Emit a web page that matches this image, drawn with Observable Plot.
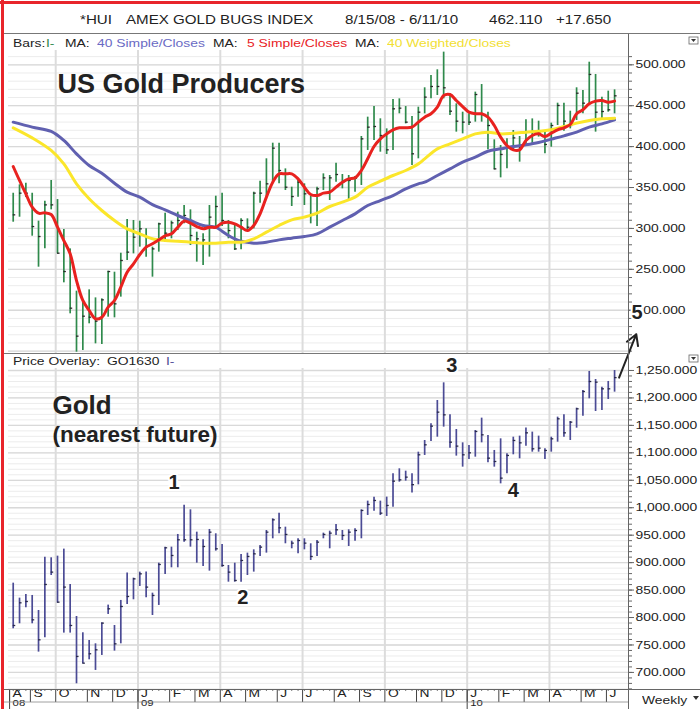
<!DOCTYPE html>
<html><head><meta charset="utf-8">
<script src="https://cdn.jsdelivr.net/npm/d3@7"></script>
<script src="https://cdn.jsdelivr.net/npm/@observablehq/plot@0.6"></script>
<style>
body{margin:0;background:#fff;}
#wrap{position:relative;width:700px;height:709px;overflow:hidden;background:#fff;font-family:"Liberation Sans",Arial,Helvetica,sans-serif;color:#222;}
.abs{position:absolute;white-space:nowrap;}
.st{display:inline-block;transform:scaleX(1.26);transform-origin:0 50%;}
#wrap svg{position:absolute;left:0;overflow:visible;}
</style></head><body><div id="wrap"></div>
<script>
// ---------------- DATA ----------------
const firstWeek = "2008-08-15", lastWeekStop = "2010-06-12";
const huiHigh = [343,353.3,355.3,343,308.9,333.3,358.6,335.3,298.7,275,223.3,209.8,224.9,215.1,213.9,247.7,246.5,269.7,310.9,309.7,308.9,299.5,277.1,306.4,318.6,308.9,319.9,328,322.7,295.4,293.4,328,
 339.4,343,309.7,303.6,311.7,311.7,344.3,357.8,385.1,404.2,404.2,372.8,350.4,359.4,354.5,339,350.4,366.7,364.7,379.8,365.9,364.7,363.5,412.4,436,449,434,421.7,457.6,458.4,449,436.8,
 448.2,471.9,487,493.9,515.5,464.5,452.3,442.1,440.1,466.6,475.9,442.1,408.3,401.4,409.5,419.7,412.4,432.7,433.9,431.1,417.7,428.7,453.1,453.1,443.3,471.9,468.6,503.2,488.2,460.5,467.8,469.4];
const huiLow = [307.6,313.7,337.8,290.5,252.6,275,322.7,268.9,233.5,195.6,148.7,150.8,183.4,158.9,158.1,191.5,190.7,216,260.8,268.9,277.1,264.9,240.4,271,283.2,287.3,297.4,305.6,279.1,258.8,254.7,264.9,
 299.5,302.3,287.3,273,273.8,297.4,299.5,330.9,338.2,356.5,354.5,346.4,326.8,338.2,328,305.6,302.3,346.4,334.1,356.5,348.4,335,344.3,352.5,395.3,407.5,393.2,390.4,395.3,440.1,427.8,376.9,
 385.1,440.1,458.4,462.5,458.4,438,417.7,415.6,425.8,429.9,429.9,396.1,371.6,361.8,372.8,395.3,381,401.4,401.4,411.6,391.2,399.3,425.8,418.9,421.7,431.9,440.1,452.3,417.7,434,442.1,440.1];
const huiClose = [316.6,343.1,343.1,302.3,290.1,328.8,328.8,269.7,247.3,202.5,168.3,192.7,191.5,186.6,212.7,247.3,207.8,260.8,271,289.3,299.5,278.3,275,305.6,294.2,306.8,309.7,315.8,291.3,287.3,286,313.8,
 326.8,309.7,297.4,275,309.7,301.5,343.1,343.1,354.5,398.1,370.8,350.4,339,356.5,342.3,317,348.4,361.8,361.8,365.9,356.5,358.6,361.4,409.5,423.8,424.6,413.6,396.1,446.2,447,429.9,391.2,
 442.1,460.5,473.5,473.5,471.9,443.3,431.1,429.9,429.9,463.7,440.1,425.8,372.8,390.4,399.3,410.7,398.5,417.7,418.9,417.7,402.6,425.8,450.3,431.1,425.8,465.3,453.1,488.2,442.1,442.9,445,462.1];

// moving averages (week index, value)
const ma5Simple = [375.7,358.6,342.3,326,318.6,319,317,301.5,285.2,268.9,236.3,211.9,199.7,189.5,191.5,203.7,211.9,228.2,246.5,256.7,268.1,277.1,281.2,286,291,293.4,301.5,308.9,306.4,302.3,299.5,301.5,
 301.5,306.4,307.6,305.6,301.5,297.4,303.6,317.8,338.2,356.5,366.7,366.7,366.7,360.6,350.4,341.5,340.2,343.1,344.3,350.4,356.5,360.6,361.8,370.8,385.1,400.1,409.5,415.6,420.5,423,423,423.8,
 430,436,440.1,448.2,462.5,463.7,456.4,449,442.1,440.1,440.1,436,425.8,411.6,401.4,396.1,396.1,407.5,413.6,415.6,412.4,416.4,420.5,423,427,440.1,445,452.3,455.6,456.4,454.3,455.6];
const ma40SimpleIdx = [0,3,6,8,10,12,14,16,18,20,22,24,26,28,30,32,33,34,35,36,37,38,40,42,44,46,48,50,52,54,56,58,60,62,64,65,67,69,71,73,75,77,79,81,83,85,87,89,91,93,95];
const ma40Simple = [429.9,423.8,418.5,407.5,391.2,376.9,367.5,355.3,344.3,338.2,329.2,322.7,315.8,309.7,303.6,301.5,296.6,291.3,287.3,284.4,283.2,282,283.2,286,288.1,290.1,293.4,301.5,309.7,317.8,328,334.1,340.2,348.4,354.5,356.5,364.7,372.8,381,387.1,394.4,397.3,400.1,402.2,405,409.1,413.2,417.7,423.8,427.8,432.7];
const ma40WeightedIdx = [0,3,6,8,10,12,14,16,18,20,22,24,26,28,30,32,34,36,38,40,42,44,46,48,50,52,54,56,58,60,62,64,65,67,69,71,73,75,77,79,81,83,85,87,89,91,93,95];
const ma40Weighted = [423,410.7,395.3,378.9,354.5,336.2,321.9,309.7,299.5,293.4,287.3,285.2,284.4,283.2,282,282,283.2,283.2,287.3,295.4,303.6,310.5,313.8,318.6,326.8,332.1,338.2,350.4,357.8,364.7,370.8,378.9,385.1,397.3,403.4,409.5,415.6,417.7,415.6,416.4,417.7,418.9,420.5,424.6,428.7,431.9,434,434.8];

const goldHigh = [862.6,835.3,842,840.2,812.8,910,908.8,911.8,924.6,860.2,801.9,772.2,758.2,752.1,790.4,822.6,785.5,831.1,880.9,871.7,882.7,882.7,844.4,899,928.2,928.2,951.3,1004.7,996.2,955.5,941.6,960.4,
 952.5,933.1,894.8,899,914.8,917.3,923.3,931.2,958.5,979.8,990.1,964.6,939.1,943.4,943.4,934.3,940.3,953.7,957.3,969.5,958.5,959.8,961.6,996.2,1012,1019.3,1012,1019.3,1061.8,1070.9,1066.6,1061.8,
 1101.2,1122.5,1152.8,1195.3,1227.5,1169.2,1142.5,1118.2,1113.4,1140.7,1163.2,1131.6,1104.3,1125.5,1098.2,1128.5,1130.4,1145,1137.7,1130.4,1107.3,1128.5,1165,1169.2,1157.1,1181.4,1213.5,1248.2,1233.6,1219.6,1230,1250];
const goldLow = [779.5,788.6,817.7,788.6,737,763,876.6,826.2,771.6,771.6,679.3,715.7,723,703.6,730.9,805.6,738.8,752.1,823.8,832.3,856.6,835.9,803.7,822,878.4,890.6,890.6,937.3,928.2,899,893,884.5,
 920.9,891.8,864.4,864.4,864.4,876.6,882.7,911.2,917.3,943.4,952.5,934.3,925.2,916.1,923.3,903.9,911.2,943.4,925.2,949.4,940.3,929.4,939.1,943.4,985.9,993.8,985.9,984.1,1001,1046.6,1048.4,1026.6,
 1041.7,1095.2,1120.7,1128.5,1146.8,1108.5,1094,1073.9,1087.9,1092.1,1118.2,1081.8,1073.9,1043.5,1061.8,1096.4,1089.1,1112.2,1101.2,1101.2,1087.9,1101.2,1119.4,1128.5,1122.5,1144.9,1166.8,1198.4,1175.3,1177.1,1197.2,1210.5];
const goldClose = [785.5,826.8,829.2,795.8,759.4,860.2,882.7,828,855.4,785.5,729.1,716.9,734,741.2,789.8,815.9,752.1,820.1,838.3,870.5,879.6,855.4,840.2,896.6,927,913,941.6,941.6,941.6,942.2,929.4,955.5,
 925.2,894.8,882.7,867.5,903.9,911.2,916.1,928.2,955.5,978,963.4,951.3,935.5,940.3,935.5,911.2,937.3,951.3,953.7,959.8,949.4,955.5,958.5,995,1005.9,1013.2,990.1,1004.1,1048.4,1050.8,1055.7,1042,
 1096.4,1114.6,1148.6,1174.1,1169.2,1119.4,1112.2,1096.4,1100,1138.9,1132.8,1090.3,1084.2,1053.9,1095.2,1122.5,1118.2,1136.4,1107.3,1108.5,1104.3,1125.5,1162,1136.4,1155.9,1180.2,1211.7,1229.9,1228.7,1216.6,1216.6,1237];

const upperTickLabels = [200,250,300,350,400,450,500];
const lowerTickLabels = [700,750,800,850,900,950,1000,1050,1100,1150,1200,1250];
const monthLetters = ["A","S","O","N","D","J","F","M","A","M","J","J","A","S","O","N","D","J","F","M","A","M","J"];
const monthBreaks = ["2008-08-11","2008-09-03","2008-10-01","2008-11-05","2008-12-03","2008-12-31","2009-02-04","2009-03-04","2009-04-01","2009-04-29","2009-06-03","2009-07-01","2009-08-05","2009-09-02","2009-09-30","2009-11-04","2009-12-02","2009-12-30","2010-02-03","2010-03-03","2010-03-31","2010-05-05","2010-06-02"];
const quarterBreaks = ["2008-10-01","2008-12-31","2009-04-01","2009-07-01","2009-09-30","2009-12-30","2010-03-31"];
const yearLabels = ["08","09","10"];
const yearBreaks = ["2008-08-11","2008-12-31","2009-12-30"];
const waveLabels = ["1","2","3","4","5"];
const waveDates = ["2009-02-09","2009-04-26","2009-12-13","2010-02-19","2010-07-06"];
const waveValues = [1046,837,1258,1032,1355];
const arrowFrom = {date:"2010-06-16", value:1237};
const arrowTo = {date:"2010-07-05", value:1316};

// ---------------- BUILD ----------------
const DAY = 864e5;
const weeks = d3.utcFriday.range(new Date(firstWeek), new Date(lastWeekStop));
const hui = weeks.map((date,i)=>({date, high:huiHigh[i], low:huiLow[i], close:huiClose[i]}));
const gold = weeks.map((date,i)=>({date, high:goldHigh[i], low:goldLow[i], close:goldClose[i]}));
const red = ma5Simple.map((v,i)=>({date:weeks[i], v}));
const blue = ma40SimpleIdx.map((i,k)=>({date:weeks[i], v:ma40Simple[k]}));
const yellow = ma40WeightedIdx.map((i,k)=>({date:weeks[i], v:ma40Weighted[k]}));
const months = monthBreaks.map((d,i)=>({date:new Date(d), label:monthLetters[i]}));
const years = yearBreaks.map((d,i)=>({date:new Date(d), label:yearLabels[i]}));
const waves = waveLabels.map((t,i)=>({t, date:new Date(waveDates[i]), v:waveValues[i]}));
const quarters = quarterBreaks.map(d=>new Date(d));

const xDomain = [new Date(Date.UTC(2008,7,9,19,12)), new Date(Date.UTC(2010,5,26,9,36))];
const FONT = "Liberation Sans, Arial, Helvetica, sans-serif";
const style = {fontFamily: FONT, background: "transparent", overflow: "visible", color: "#222"};

const upper = Plot.plot({
  width: 700, height: 319, marginLeft: 8, marginRight: 72, marginTop: 16, marginBottom: 0,
  x: {type: "utc", domain: xDomain, axis: null, label: null},
  y: {domain: [147.1, 517.5], label: null},
  style,
  marks: [
    Plot.ruleY(d3.range(150, 520, 10), {stroke: "#ececec", strokeWidth: 1}),
    Plot.ruleY(d3.range(150, 520, 50), {stroke: "#d9d9d9", strokeWidth: 1.3}),
    Plot.ruleX(quarters, {stroke: "#dcdcdc", strokeWidth: 2}),
    Plot.ruleX(hui, {x: "date", y1: "low", y2: "high", stroke: "#2f8a4c", strokeWidth: 1.7}),
    Plot.ruleY(hui, {x1: "date", x2: d => new Date(+d.date + 2.8*DAY), y: "close", stroke: "#2a2a2a", strokeWidth: 1.3}),
    Plot.line(blue, {x: "date", y: "v", stroke: "#6060b0", strokeWidth: 3, curve: "catmull-rom"}),
    Plot.line(yellow, {x: "date", y: "v", stroke: "#fbe62a", strokeWidth: 3, curve: "catmull-rom"}),
    Plot.line(red, {x: "date", y: "v", stroke: "#e8221f", strokeWidth: 3, curve: "catmull-rom"}),
    Plot.text(["US Gold Producers"], {text: d => d, frameAnchor: "top-left", dx: 49, dy: 23, lineAnchor: "top", textAnchor: "start", fontSize: 27, fontWeight: "bold", fill: "#222"}),
    Plot.axisY(d3.range(150, 520, 10), {anchor: "right", tickSize: 3, tickFormat: () => "", stroke: "#666"}),
    Plot.axisY(upperTickLabels, {anchor: "right", tickSize: 5, tickPadding: 2, tickFormat: d3.format(".3f"), fontSize: 11, fill: "#222", stroke: "#666"})
  ]
});

const lower = Plot.plot({
  width: 700, height: 356, marginLeft: 8, marginRight: 72, marginTop: 15, marginBottom: 20,
  x: {type: "utc", domain: xDomain, label: null},
  y: {domain: [668.9, 1253.6], label: null},
  style,
  marks: [
    Plot.ruleY(d3.range(670, 1260, 10), {stroke: "#ececec", strokeWidth: 1}),
    Plot.ruleY(d3.range(700, 1260, 50), {stroke: "#d9d9d9", strokeWidth: 1.3}),
    Plot.ruleX(quarters, {stroke: "#dcdcdc", strokeWidth: 2}),
    Plot.ruleX(gold, {x: "date", y1: "low", y2: "high", stroke: "#4b4b95", strokeWidth: 1.7}),
    Plot.ruleY(gold, {x1: "date", x2: d => new Date(+d.date + 2.8*DAY), y: "close", stroke: "#2a2a4a", strokeWidth: 1.3}),
    Plot.text(["Gold"], {text: d => d, frameAnchor: "top-left", dx: 44, dy: 27, lineAnchor: "top", textAnchor: "start", fontSize: 26, fontWeight: "bold", fill: "#222"}),
    Plot.text(["(nearest future)"], {text: d => d, frameAnchor: "top-left", dx: 44, dy: 58, lineAnchor: "top", textAnchor: "start", fontSize: 22.5, fontWeight: "bold", fill: "#222"}),
    Plot.arrow([{x1: new Date(arrowFrom.date), y1: arrowFrom.value, x2: new Date(arrowTo.date), y2: arrowTo.value}], {x1: "x1", y1: "y1", x2: "x2", y2: "y2", stroke: "#222", strokeWidth: 2, headLength: 9}),
    Plot.text(waves, {x: "date", y: "v", text: "t", fontSize: 20, fontWeight: "bold", fill: "#222", stroke: "white", strokeWidth: 4}),
    Plot.axisY(d3.range(670, 1260, 10), {anchor: "right", tickSize: 3, tickFormat: () => "", stroke: "#666"}),
    Plot.axisY(lowerTickLabels, {anchor: "right", tickSize: 5, tickPadding: 2, tickFormat: d3.format(",.3f"), fontSize: 11, fill: "#222", stroke: "#666"}),
    Plot.axisX(weeks, {anchor: "bottom", tickSize: 2, tickFormat: () => "", stroke: "#777"}),
    Plot.axisX(months.map(d => d.date), {anchor: "bottom", tickSize: 13, tickFormat: () => "", stroke: "#444"}),
    Plot.axisX(years.map(d => d.date), {anchor: "bottom", tickSize: 22, tickFormat: () => "", stroke: "#444"}),
    Plot.text(months, {x: "date", text: "label", frameAnchor: "bottom", dy: 7, dx: 3, textAnchor: "start", fontSize: 11, fill: "#222"}),
    Plot.text(years, {x: "date", text: "label", frameAnchor: "bottom", dy: 16, dx: 3, textAnchor: "start", fontSize: 9, fill: "#222"})
  ]
});

const wrap = document.getElementById("wrap");
function addText(x, y, txt, color, size, stretch) {
  const d = document.createElement("div");
  d.className = "abs";
  d.style.left = x + "px"; d.style.top = (y - size/2) + "px";
  d.style.fontSize = size + "px"; d.style.lineHeight = size + "px"; d.style.color = color;
  d.innerHTML = `<span class="${stretch ? "st" : ""}">${txt}</span>`;
  wrap.appendChild(d);
}
upper.style.top = "34px";
lower.style.top = "353px";
wrap.appendChild(upper);
wrap.appendChild(lower);

// stretch small svg text horizontally about its own anchor (the reference's small text is widened)
function stretchSmall(svg, s) {
  svg.querySelectorAll("text").forEach(t => {
    const fs = parseFloat(getComputedStyle(t).fontSize);
    if (fs > 12) return;
    const xa = t.getAttribute("x");
    const x = xa && /^-?[\d.]+$/.test(xa) ? +xa : 0;
    const tr = t.getAttribute("transform") || "";
    t.setAttribute("transform", `${tr} translate(${x},0) scale(${s},1) translate(${-x},0)`);
  });
}
stretchSmall(upper, 1.26);
stretchSmall(lower, 1.26);

// header & legends
addText(80, 19.5, "*HUI", "#222", 12, true);
addText(126, 19.5, "AMEX GOLD BUGS INDEX", "#222", 12, true);
addText(345, 19.5, "8/15/08 - 6/11/10", "#222", 12, true);
addText(489, 19.5, "462.110", "#222", 12, true);
addText(556, 19.5, "+17.650", "#222", 12, true);
addText(12.5, 43.5, "Bars:", "#222", 11, true);
addText(46, 43.5, "I-", "#2f8a4c", 11, true);
addText(65, 43.5, "MA:", "#222", 11, true);
addText(97, 43.5, "40 Simple/Closes", "#6a6ac4", 11, true);
addText(213, 43.5, "MA:", "#222", 11, true);
addText(247, 43.5, "5 Simple/Closes", "#e8221f", 11, true);
addText(355, 43.5, "MA:", "#222", 11, true);
addText(387, 43.5, "40 Weighted/Closes", "#f2e033", 11, true);
addText(12.7, 361.7, "Price Overlay:", "#222", 11, true);
addText(107, 361.7, "GO1630", "#222", 11, true);
addText(166, 361.7, "I-", "#4b4b95", 11, true);
addText(642, 700.3, "Weekly", "#222", 11, true);

// frame decorations
const ov = d3.create("svg").attr("width", 700).attr("height", 709).style("top", "0px").style("pointer-events", "none");
const L = (x1,y1,x2,y2,c,w) => ov.append("line").attr("x1",x1).attr("y1",y1).attr("x2",x2).attr("y2",y2).attr("stroke",c).attr("stroke-width",w);
L(3, 33.5, 700, 33.5, "#777", 1);
L(3, 353.5, 628, 353.5, "#777", 1.2);
L(628.5, 34, 628.5, 709, "#666", 1);
L(3, 689.5, 700, 689.5, "#666", 1);
L(3, 702, 628, 702, "#888", 0.8);
ov.append("rect").attr("x", 0).attr("y", 1).attr("width", 700).attr("height", 3).attr("fill", "#e8252b");
ov.append("rect").attr("x", 1).attr("y", 0).attr("width", 3).attr("height", 709).attr("fill", "#e8252b");
[[689, 37], [689, 355]].forEach(([x,y]) => {
  ov.append("rect").attr("x", x).attr("y", y).attr("width", 9).attr("height", 7).attr("fill", "white").attr("stroke", "#666").attr("stroke-width", 0.8);
  ov.append("path").attr("d", `M${x+2},${y+2}L${x+7},${y+2}L${x+4.5},${y+5}Z`).attr("fill", "#333");
});
ov.append("path").attr("d", "M693,696L699,696L696,700Z").attr("fill", "#333");
wrap.appendChild(ov.node());
</script>
</body></html>
